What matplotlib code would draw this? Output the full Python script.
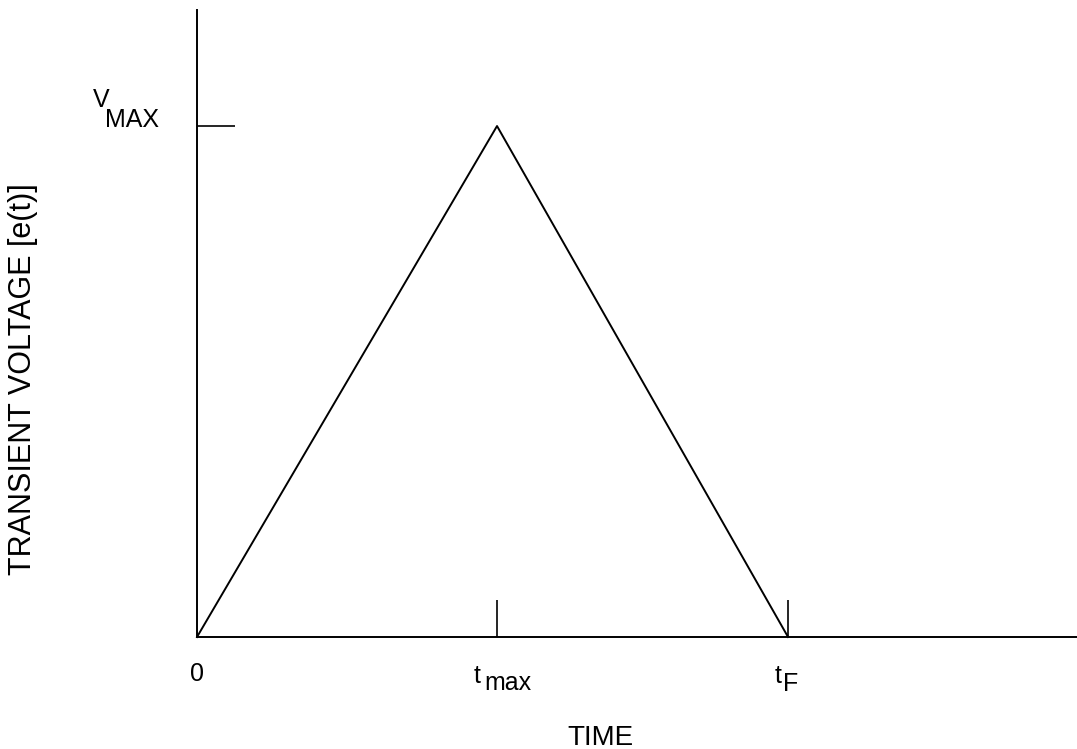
import matplotlib.pyplot as plt

# triangular transient pulse: rises to V_MAX at t_max, back to zero at t_F
t_points = [0.0, 1.0, 1.97]
v_points = [0.0, 1.0, 0.0]
t_max = t_points[1]
t_f = t_points[2]
v_max = v_points[1]

plt.rcParams['font.family'] = ['Liberation Sans', 'DejaVu Sans']

fig = plt.figure(figsize=(10.77, 7.49), dpi=100)
ax = fig.add_axes([0.1829, 0.1495, 0.8171, 0.8371])
ax.set_xlim(0, 2.933)
ax.set_ylim(0, 1.227)

ax.plot(t_points, v_points, color='black', lw=1.4, clip_on=False)

for side in ['top', 'right']:
    ax.spines[side].set_visible(False)
for side in ['left', 'bottom']:
    ax.spines[side].set_linewidth(1.4)

ax.set_xticks([t_max, t_f])
ax.set_yticks([v_max])
ax.set_xticklabels([])
ax.set_yticklabels([])
ax.tick_params(direction='in', length=27, width=1.2, color='black')

# axis annotations, offsets in points from the data positions
def label(x, y, main, sub, dx, dy, sub_dx, sub_dy, size=18, sub_size=18):
    ax.annotate(main, xy=(x, y), xytext=(dx, dy), textcoords='offset points',
                ha='left', va='baseline', fontsize=size, annotation_clip=False)
    if sub:
        ax.annotate(sub, xy=(x, y), xytext=(sub_dx, sub_dy), textcoords='offset points',
                    ha='left', va='baseline', fontsize=sub_size, annotation_clip=False)

ax.annotate('0', xy=(0, 0), xytext=(0, -32), textcoords='offset points',
            ha='center', va='baseline', fontsize=18, annotation_clip=False)
label(t_max, 0, 't', 'max', -17, -33, -9, -38)
label(t_f, 0, 't', 'F', -10, -33, -4, -39)
label(0, v_max, 'V', 'MAX', -75, 14, -66, -1)

fig.text(567 / 1077, 1 - 745 / 749, 'TIME', ha='left', va='baseline', fontsize=20)
fig.text(23 / 1077, 1 - 379 / 749, 'TRANSIENT VOLTAGE [e(t)]', rotation=90,
         ha='center', va='center', fontsize=22)

fig.savefig('out.png', dpi=100)
